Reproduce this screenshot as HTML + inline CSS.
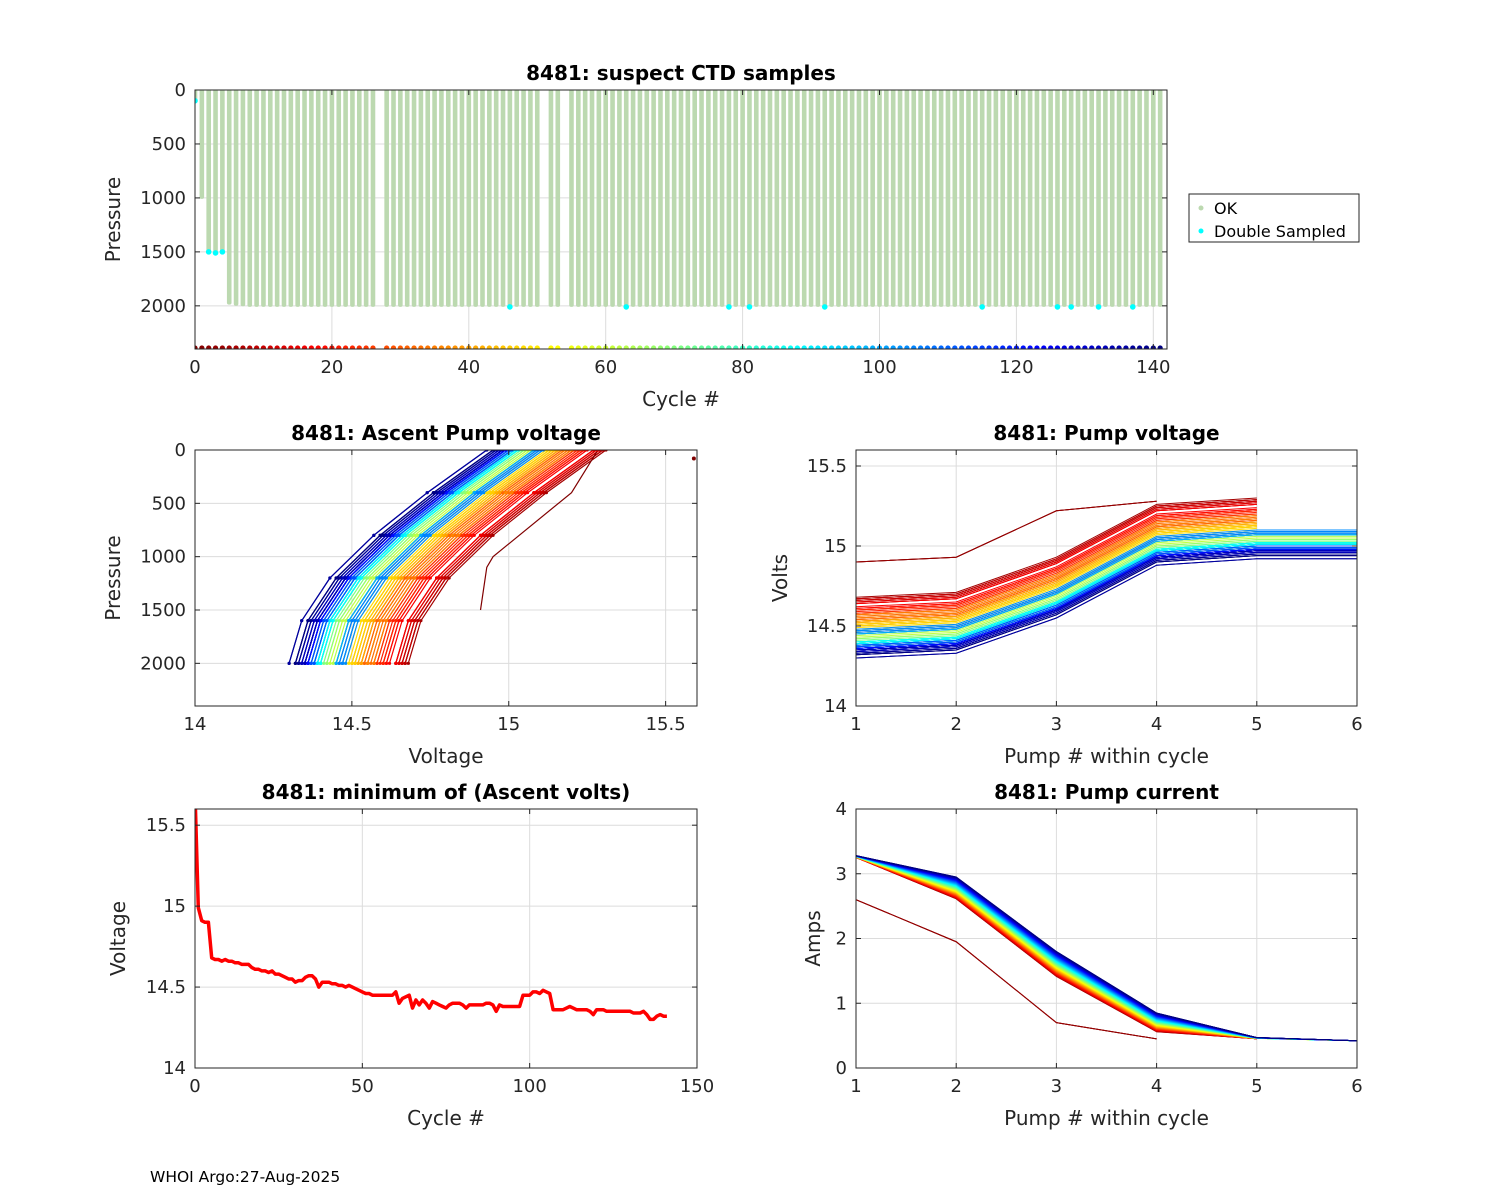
<!DOCTYPE html>
<html><head><meta charset="utf-8"><style>
html,body{margin:0;padding:0;background:#fff;}
svg{display:block;font-family:"DejaVu Sans","Liberation Sans",sans-serif;}
</style></head><body>
<svg id="fig" width="1500" height="1200" viewBox="0 0 1500 1200" xmlns="http://www.w3.org/2000/svg">
<rect width="1500" height="1200" fill="#fff"/>
<text x="150" y="1182" font-size="15.5" fill="#000">WHOI Argo:27-Aug-2025</text>
</svg>
<script>
const minVolts = [15.70,14.99,14.91,14.90,14.90,14.68,14.67,14.67,14.66,14.67,14.66,14.66,14.65,14.65,14.64,14.64,14.64,14.62,14.61,14.61,14.60,14.60,14.59,14.60,14.58,14.58,14.57,14.56,14.55,14.55,14.53,14.54,14.54,14.56,14.57,14.57,14.55,14.50,14.53,14.53,14.53,14.52,14.52,14.51,14.51,14.50,14.51,14.50,14.49,14.48,14.47,14.46,14.46,14.45,14.45,14.45,14.45,14.45,14.45,14.45,14.47,14.40,14.43,14.44,14.45,14.37,14.42,14.39,14.42,14.40,14.37,14.41,14.40,14.39,14.38,14.37,14.39,14.40,14.40,14.40,14.39,14.37,14.39,14.39,14.39,14.39,14.39,14.40,14.40,14.39,14.35,14.39,14.38,14.38,14.38,14.38,14.38,14.38,14.45,14.45,14.45,14.47,14.47,14.46,14.48,14.47,14.46,14.36,14.36,14.36,14.36,14.37,14.38,14.37,14.36,14.36,14.36,14.36,14.35,14.33,14.36,14.36,14.36,14.35,14.35,14.35,14.35,14.35,14.35,14.35,14.35,14.34,14.34,14.34,14.35,14.33,14.30,14.30,14.32,14.33,14.32,14.32];
const missingCycles = [27,51,54];
const maxDepths = [100,1000,1500,1500,1500,1980,1990,1995,2000,2000];
const doubleCycles = [0,2,3,4,46,63,78,81,92,115,126,128,132,137];
const doublePress = [100,1500,1510,1500,2010,2010,2010,2010,2010,2010,2010,2010,2010,2010];
const profilePress = [2000,1600,1200,800,400,0];
const profileOffset = [0,0.04,0.13,0.27,0.44,0.63];
const pumpVoltOffset = [0,0.03,0.25,0.58,0.62,0.62];
const currentEarly = [3.25,2.6,1.4,0.55,0.45,0.42];
const currentLate = [3.28,2.95,1.8,0.85,0.47,0.42];
const earlyVolts = [14.9,14.93,15.22,15.28];
const earlyCurrent = [2.6,1.95,0.7,0.45];
const xTicks1=[0,20,40,60,80,100,120,140], yTicksP=[0,500,1000,1500,2000];
const xTicks2=[14,14.5,15,15.5], xTicksPump=[1,2,3,4,5,6], yTicksV=[14,14.5,15,15.5];
const xTicks4=[0,50,100,150], yTicksA=[0,1,2,3,4];

const NS="http://www.w3.org/2000/svg", fig=document.getElementById('fig');
function mk(tag,attrs,parent){const e=document.createElementNS(NS,tag);for(const k in attrs)e.setAttribute(k,attrs[k]);(parent||fig).appendChild(e);return e;}
function jet(c){const x=1-c/141;const cl=v=>Math.max(0,Math.min(1,v));
 const r=cl(1.5-Math.abs(4*x-3)),g=cl(1.5-Math.abs(4*x-2)),b=cl(1.5-Math.abs(4*x-1));
 return `rgb(${Math.round(r*255)},${Math.round(g*255)},${Math.round(b*255)})`;}
function fmt(v){return String(v);}
function axes(name,l,t,r,b,x0,x1,y0,y1,rev,xt,yt,title,xl,yl){
 const g=mk('g',{});  
 const sx=v=>l+(v-x0)/(x1-x0)*(r-l);
 const sy=rev?(v=>t+(v-y0)/(y1-y0)*(b-t)):(v=>b-(v-y0)/(y1-y0)*(b-t));
 const grid=mk('g',{},g);  
 xt.forEach(v=>{const X=sx(v);mk('line',{x1:X,x2:X,y1:t,y2:b,stroke:'#dcdcdc','stroke-width':1},grid);});
 yt.forEach(v=>{const Y=sy(v);mk('line',{x1:l,x2:r,y1:Y,y2:Y,stroke:'#dcdcdc','stroke-width':1},grid);});
 const plot=mk('g',{},g);  
 const cid='clip-'+name; const cp=mk('clipPath',{id:cid},g); mk('rect',{x:l,y:t,width:r-l,height:b-t},cp);
 plot.setAttribute('clip-path','url(#'+cid+')');
 return {g,plot,sx,sy,finish(){
  mk('rect',{x:l,y:t,width:r-l,height:b-t,fill:'none',stroke:'#262626','stroke-width':1},g);
  xt.forEach(v=>{const X=sx(v);mk('line',{x1:X,x2:X,y1:b,y2:b-5,stroke:'#262626'},g);mk('line',{x1:X,x2:X,y1:t,y2:t+5,stroke:'#262626'},g);
   const tx=mk('text',{x:X,y:b+24,'font-size':18,'text-anchor':'middle',fill:'#262626'},g);tx.textContent=fmt(v);
   });
  yt.forEach(v=>{const Y=sy(v);mk('line',{x1:l,x2:l+5,y1:Y,y2:Y,stroke:'#262626'},g);mk('line',{x1:r,x2:r-5,y1:Y,y2:Y,stroke:'#262626'},g);
   const tx=mk('text',{x:l-9,y:Y+6,'font-size':18,'text-anchor':'end',fill:'#262626'},g);tx.textContent=fmt(v);
   });
  const tt=mk('text',{x:(l+r)/2,y:t-10,'font-size':20,'font-weight':'bold','text-anchor':'middle',fill:'#000'},g);tt.textContent=title;
  
  const xa=mk('text',{x:(l+r)/2,y:b+57,'font-size':20,'text-anchor':'middle',fill:'#262626'},g);xa.textContent=xl;
  
  const ya=mk('text',{x:0,y:0,'font-size':20,'text-anchor':'middle',fill:'#262626',transform:`translate(${yl[1]},${(t+b)/2}) rotate(-90)`},g);ya.textContent=yl[0];
  
 }};
}
const cycles=[];for(let c=0;c<minVolts.length;c++)if(!missingCycles.includes(c))cycles.push(c);
function depthOf(c){return c<maxDepths.length?maxDepths[c]:2000;}

// Top plot
const A1=axes('ctd-samples-chart',195,90,1167,349,0,142,0,2400,true,xTicks1,yTicksP,'8481: suspect CTD samples','Cycle #',['Pressure',120]);
cycles.forEach(c=>{const X=A1.sx(c);
 const r=mk('rect',{x:X-2.3,y:A1.sy(0)-1,width:4.6,height:A1.sy(depthOf(c))-A1.sy(0)+2,fill:'#bcd9b0',rx:2},A1.plot);
 });
doubleCycles.forEach((c,i)=>{const d=mk('circle',{cx:A1.sx(c),cy:A1.sy(doublePress[i]),r:2.8,fill:'#00ffff'},A1.plot);
 });
cycles.forEach(c=>{const d=mk('circle',{cx:A1.sx(c),cy:A1.sy(2400)-1,r:2.6,fill:jet(c)},A1.plot);
 });
A1.finish();
// legend
const lg=mk('g',{});
mk('rect',{x:1189,y:194,width:170,height:48,fill:'#fff',stroke:'#262626'},lg);
mk('circle',{cx:1201,cy:208,r:2.5,fill:'#bcd9b0'},lg);
const l1=mk('text',{x:1214,y:214,'font-size':16,fill:'#000'},lg);l1.textContent='OK';
mk('circle',{cx:1201,cy:231,r:2.5,fill:'#00ffff'},lg);
const l2=mk('text',{x:1214,y:237,'font-size':16,fill:'#000'},lg);l2.textContent='Double Sampled';

// Ascent pump voltage
const A2=axes('ascent-pump-voltage-chart',195,450,697,706,14,15.6,0,2400,true,xTicks2,yTicksP,'8481: Ascent Pump voltage','Voltage',['Pressure',120]);
cycles.filter(c=>c>=5).forEach(c=>{
 const pts=profilePress.map((p,i)=>A2.sx(minVolts[c]+profileOffset[i]).toFixed(1)+','+A2.sy(p).toFixed(1)).join(' ');
 const pl=mk('polyline',{points:pts,fill:'none',stroke:jet(c),'stroke-width':1.2},A2.plot);
 
 profilePress.forEach((p,i)=>{mk('circle',{cx:A2.sx(minVolts[c]+profileOffset[i]),cy:A2.sy(p),r:1.6,fill:jet(c)},A2.plot);});
});
const early=mk('polyline',{points:[[14.91,1500],[14.93,1100],[14.95,1000],[15.2,400],[15.28,20]].map(a=>A2.sx(a[0])+','+A2.sy(a[1])).join(' '),fill:'none',stroke:'#800000','stroke-width':1.2},A2.plot);

mk('circle',{cx:A2.sx(15.59),cy:A2.sy(80),r:2,fill:'#800000'},A2.plot);
A2.finish();

// Pump voltage
const A3=axes('pump-voltage-chart',856,450,1357,706,1,6,14,15.6,false,xTicksPump,yTicksV,'8481: Pump voltage','Pump # within cycle',['Volts',787]);
[1,2,3].forEach(c=>{const pl=mk('polyline',{points:earlyVolts.map((v,i)=>A3.sx(i+1)+','+A3.sy(v)).join(' '),fill:'none',stroke:jet(c),'stroke-width':1},A3.plot);
 });
cycles.filter(c=>c>=5).forEach(c=>{const n=c<55?5:6;
 const pts=[];for(let i=0;i<n;i++)pts.push(A3.sx(i+1).toFixed(1)+','+A3.sy(minVolts[c]+pumpVoltOffset[i]).toFixed(1));
 const pl=mk('polyline',{points:pts.join(' '),fill:'none',stroke:jet(c),'stroke-width':1},A3.plot);
 });
A3.finish();

// Minimum ascent volts
const A4=axes('min-ascent-volts-chart',195,809,697,1068,0,150,14,15.6,false,xTicks4,yTicksV,'8481: minimum of (Ascent volts)','Cycle #',['Voltage',125]);
const mv=mk('polyline',{points:minVolts.map((v,c)=>A4.sx(c).toFixed(1)+','+A4.sy(v).toFixed(1)).join(' '),fill:'none',stroke:'#ff0000','stroke-width':3.5,'stroke-linejoin':'round'},A4.plot);

A4.finish();

// Pump current
const A5=axes('pump-current-chart',856,809,1357,1068,1,6,0,4,false,xTicksPump,yTicksA,'8481: Pump current','Pump # within cycle',['Amps',820]);
[1,2,3].forEach(c=>{const pl=mk('polyline',{points:earlyCurrent.map((v,i)=>A5.sx(i+1)+','+A5.sy(v)).join(' '),fill:'none',stroke:jet(c),'stroke-width':1},A5.plot);
 });
cycles.filter(c=>c>=5).forEach(c=>{const n=c<55?5:6;const f=c/141;
 const pts=[];for(let i=0;i<n;i++)pts.push(A5.sx(i+1).toFixed(1)+','+A5.sy(currentEarly[i]+(currentLate[i]-currentEarly[i])*f).toFixed(1));
 const pl=mk('polyline',{points:pts.join(' '),fill:'none',stroke:jet(c),'stroke-width':1},A5.plot);
 });
A5.finish();
</script>
</body></html>
